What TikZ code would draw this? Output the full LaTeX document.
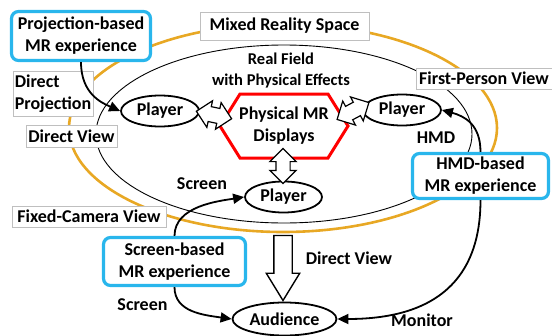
\documentclass[tikz,border=0pt]{standalone}
\usepackage{fontspec}
\setmainfont{Carlito}
\usetikzlibrary{arrows.meta,shapes.arrows,shapes.geometric,calc}

\definecolor{goldline}{RGB}{232,168,36}
\definecolor{mrcyan}{RGB}{41,182,236}

\newcommand{\mrfont}{\bfseries\fontsize{18}{22}\selectfont}
\newcommand{\fieldfont}{\bfseries\fontsize{16.5}{21}\selectfont}

\tikzset{
  mrbox/.style={draw=mrcyan, line width=3.2pt, rounded corners=7pt, fill=white,
    align=center, inner sep=0pt, font=\mrfont},
  viewlabel/.style={draw=black!25, line width=0.6pt, fill=white, inner sep=1.5pt,
    font=\mrfont},
  plainlabel/.style={inner sep=0pt, font=\mrfont},
  player/.style={ellipse, draw, line width=1.8pt, fill=white, minimum width=78pt,
    minimum height=31pt, inner sep=0pt, font=\mrfont},
  conn/.style={line width=1.8pt, -{Triangle[length=11pt,width=10pt]}},
  dblarrow/.style={double arrow, draw, line width=1.2pt, fill=white, inner xsep=0pt,
    inner ysep=7pt, minimum height=36pt, double arrow head extend=6pt},
  bigarrow/.style={single arrow, draw, line width=1.4pt, fill=white, inner xsep=0pt,
    inner ysep=8.5pt, minimum height=65pt, single arrow head extend=7.5pt,
    single arrow tip angle=63},
}

\begin{document}
\begin{tikzpicture}[x=1pt,y=-1pt]
  \useasboundingbox (0,0) rectangle (552,335);

  % mixed reality space and real field
  \draw[goldline, line width=2.6pt] (283,128) ellipse [x radius=214, y radius=104];
  \draw[line width=0.9pt] (284,134) ellipse [x radius=188, y radius=89];

  % labels of the views
  \node[viewlabel, minimum width=169pt, minimum height=28pt] (mrspace) at (284.5,26) {Mixed Reality Space};
  \node[viewlabel, align=left, minimum width=80pt, minimum height=45pt] (dproj) at (53,93.5) {Direct\\Projection};
  \node[viewlabel, minimum width=91pt, minimum height=22pt] (dview) at (71.5,136) {Direct View};
  \node[viewlabel, minimum width=136pt, minimum height=21pt] (fpview) at (484,78.5) {First-Person View};
  \node[viewlabel, minimum width=154pt, minimum height=21pt] (fcview) at (89,216.5) {Fixed-Camera View};
  \node[inner sep=0pt, align=center, font=\fieldfont] (field) at (281,71) {Real Field\\with Physical Effects};

  % experiences
  \node[mrbox, minimum width=139pt, minimum height=49pt] (proj) at (81,36) {Projection-based\\MR experience};
  \node[mrbox, minimum width=136pt, minimum height=45pt] (hmd) at (480.5,176) {HMD-based\\MR experience};
  \node[mrbox, minimum width=142pt, minimum height=48pt] (scr) at (174.5,261.5) {Screen-based\\MR experience};

  % displays and players
  \node[inner sep=0pt, outer sep=0pt, minimum width=128pt, minimum height=64pt, align=center,
    font=\mrfont] (hex) at (284,126) {Physical MR\\Displays};
  \draw[red, line width=3pt] (hex.west) -- ([xshift=20pt]hex.north west) -- ([xshift=-20pt]hex.north east)
    -- (hex.east) -- ([xshift=-20pt]hex.south east) -- ([xshift=20pt]hex.south west) -- cycle;

  \node[player] (pl) at (160,111) {Player};
  \node[player] (pr) at (402,110) {Player};
  \node[player, minimum width=77pt] (pc) at (283.5,197) {Player};
  \node[player, minimum width=104pt, minimum height=33pt] (aud) at (284.5,319) {Audience};

  \node[dblarrow, rotate=-12] (dl) at (214,115) {};
  \node[dblarrow, rotate=28] (dr) at (353,111) {};
  \node[dblarrow, rotate=90, minimum height=35pt, inner ysep=6.5pt] (dd) at (283,166) {};
  \node[bigarrow, rotate=-90] (down) at (283,260.5) {};

  % connectors
  \draw[conn] (proj.south) .. controls +(0,32) and +(-18,-8) .. (pl.west);
  \draw[conn] (hmd.north) .. controls +(0,-28) and +(22,6) .. (pr.east);
  \draw[conn] (scr.north) .. controls +(0,-30) and +(-25,4) .. (pc.west);
  \draw[conn] (scr.south) .. controls +(0,25) and +(-28,-4) .. (aud.west);
  \draw[conn] (hmd.south) .. controls +(0,57) and +(120,0) .. (aud.east);

  % connector labels
  \node[plainlabel] (hmdlbl) at (436,137.5) {HMD};
  \node[plainlabel] (scrtop) at (202,184) {Screen};
  \node[plainlabel] (scrlow) at (142.5,305) {Screen};
  \node[plainlabel] (dvdown) at (349,258.5) {Direct View};
  \node[plainlabel] (mon) at (422,320.5) {Monitor};
\end{tikzpicture}
\end{document}
